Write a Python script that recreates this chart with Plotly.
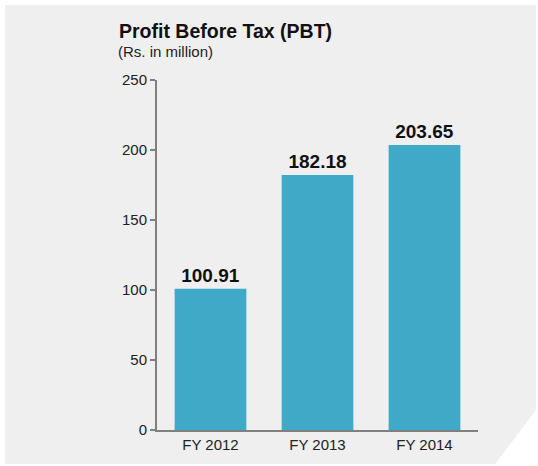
import plotly.graph_objects as go

categories = ["FY 2012", "FY 2013", "FY 2014"]
pbt_values = [100.91, 182.18, 203.65]
value_labels = ["100.91", "182.18", "203.65"]
y_ticks = [0, 50, 100, 150, 200, 250]

W, H = 538, 466
L, R, T, B = 157, 60, 80, 36
pw = W - L - R
ph = H - T - B

def px(x):
    return (x - L) / pw

def py(y):
    return (H - B - y) / ph

FONT = "Liberation Sans, Arial, Helvetica, sans-serif"

fig = go.Figure(go.Bar(
    x=categories, y=pbt_values,
    text=value_labels, textposition="outside",
    textfont=dict(family=FONT, size=19, color="#111111", weight="bold"),
    marker=dict(color="#41a9c8", line=dict(width=0)),
    width=0.67, cliponaxis=False,
))

bg_pts = [(5, 5), (536, 5), (536, 410), (495, 464), (5, 464)]
path = "M " + " L ".join(f"{px(x):.5f},{py(y):.5f}" for x, y in bg_pts) + " Z"

fig.update_layout(
    width=W, height=H,
    margin=dict(l=L, r=R, t=T, b=B, pad=0),
    paper_bgcolor="white", plot_bgcolor="rgba(0,0,0,0)",
    showlegend=False,
    font=dict(family=FONT, color="#222222"),
    shapes=[dict(type="path", path=path, xref="paper", yref="paper",
                 fillcolor="#efefef", line=dict(width=0), layer="below")],
    annotations=[
        dict(text="<b>Profit Before Tax (PBT)</b>", x=px(117), y=py(31),
             xref="paper", yref="paper", xanchor="left", yanchor="middle",
             showarrow=False, font=dict(family=FONT, size=19.5, color="#111111")),
        dict(text="(Rs. in million)", x=px(116), y=py(52),
             xref="paper", yref="paper", xanchor="left", yanchor="middle",
             showarrow=False, font=dict(family=FONT, size=15, color="#222222")),
    ],
    xaxis=dict(range=[-0.5, 2.5], showline=True, linecolor="#808080", linewidth=2,
               ticks="", showgrid=False, zeroline=False,
               tickfont=dict(family=FONT, size=15, color="#222222")),
    yaxis=dict(range=[0, 250], tickvals=y_ticks, showline=True, linecolor="#808080",
               linewidth=2, ticks="outside", ticklen=5, tickwidth=2, tickcolor="#808080",
               showgrid=False, zeroline=False,
               tickfont=dict(family=FONT, size=15, color="#222222")),
)

fig.write_html(
    "out.html",
    config={"displayModeBar": False},
    post_script="document.body.style.margin='0';document.body.style.overflow='hidden';",
)
